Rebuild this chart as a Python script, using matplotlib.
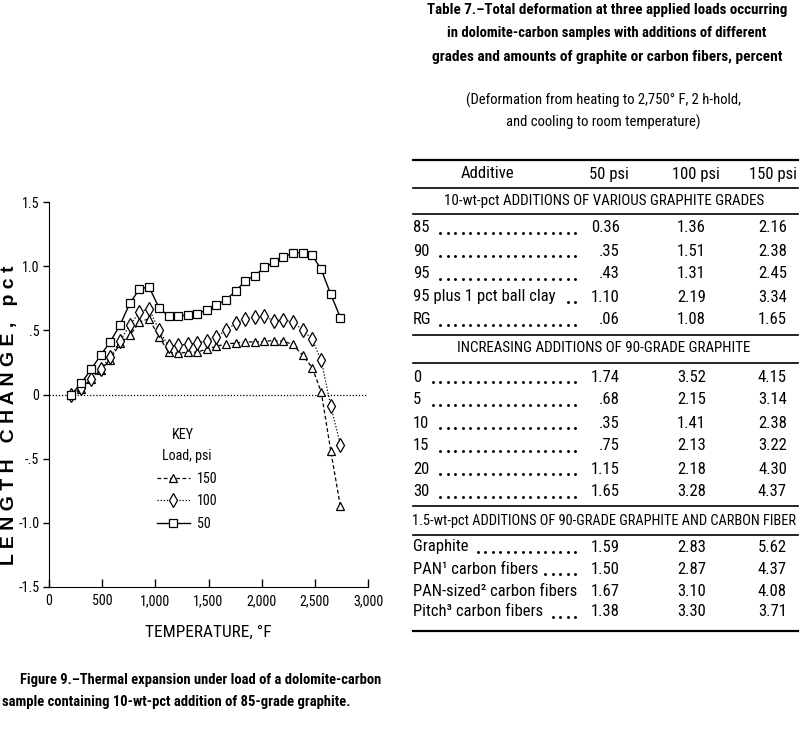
import matplotlib
matplotlib.use("Agg")
import matplotlib.pyplot as plt
from matplotlib import font_manager
import numpy as np

# === FONTS: prefer a condensed face, like the scan; fall back to Liberation Sans ===
_faces = {(f.name, f.stretch) for f in font_manager.fontManager.ttflist}
_names = {n for n, s in _faces}
if 'Liberation Sans Narrow' in _names:
    NARROW, STRETCH = 'Liberation Sans Narrow', 'normal'
elif 'Roboto Condensed' in _names:
    NARROW, STRETCH = 'Roboto Condensed', 'normal'
elif ('Noto Sans', 'condensed') in _faces:
    NARROW, STRETCH = 'Noto Sans', 'condensed'
elif ('DejaVu Sans', 'condensed') in _faces:
    NARROW, STRETCH = 'DejaVu Sans', 'condensed'
else:
    NARROW, STRETCH = 'Liberation Sans', 'normal'
plt.rcParams['font.family'] = [NARROW, 'DejaVu Sans']
plt.rcParams['font.stretch'] = STRETCH

# === FIGURE 9 DATA ===
temps = [210, 305, 395, 485, 575, 670, 760, 850, 940, 1035, 1125, 1215, 1305, 1395, 1485,
         1575, 1665, 1755, 1845, 1935, 2025, 2115, 2205, 2295, 2385, 2475, 2560, 2650, 2740]
load_50 = [0.0, 0.09, 0.195, 0.305, 0.41, 0.545, 0.71, 0.82, 0.84, 0.675, 0.61, 0.61, 0.62, 0.63, 0.66,
           0.695, 0.74, 0.805, 0.885, 0.925, 0.99, 1.03, 1.07, 1.105, 1.105, 1.085, 0.975, 0.78, 0.60]
load_100 = [0.0, 0.05, 0.12, 0.20, 0.29, 0.42, 0.54, 0.64, 0.67, 0.50, 0.375, 0.385, 0.39, 0.40, 0.42,
            0.45, 0.50, 0.555, 0.59, 0.605, 0.61, 0.575, 0.58, 0.565, 0.505, 0.43, 0.265, -0.09, -0.39]
load_150 = [0.0, 0.045, 0.12, 0.19, 0.27, 0.40, 0.46, 0.565, 0.59, 0.45, 0.33, 0.32, 0.33, 0.33, 0.355,
            0.375, 0.395, 0.40, 0.41, 0.41, 0.415, 0.42, 0.415, 0.39, 0.305, 0.21, 0.02, -0.44, -0.87]
yticks = [1.5, 1.0, 0.5, 0, -0.5, -1.0, -1.5]
ytick_labels = ['1.5', '1.0', '.5', '0', '-.5', '-1.0', '-1.5']
xticks = [0, 500, 1000, 1500, 2000, 2500, 3000]
xtick_labels = ['0', '500', '1,000', '1,500', '2,000', '2,500', '3,000']

# === TABLE 7 DATA ===
sec_titles = ["10-wt-pct ADDITIONS OF VARIOUS GRAPHITE GRADES",
              "INCREASING ADDITIONS OF 90-GRADE GRAPHITE",
              "1.5-wt-pct ADDITIONS OF 90-GRADE GRAPHITE AND CARBON FIBER"]
sec1_labels = ["85", "90", "95", "95 plus 1 pct ball clay", "RG"]
sec1_50 = ["0.36", ".35", ".43", "1.10", ".06"]
sec1_100 = ["1.36", "1.51", "1.31", "2.19", "1.08"]
sec1_150 = ["2.16", "2.38", "2.45", "3.34", "1.65"]
sec2_labels = ["0", "5", "10", "15", "20", "30"]
sec2_50 = ["1.74", ".68", ".35", ".75", "1.15", "1.65"]
sec2_100 = ["3.52", "2.15", "1.41", "2.13", "2.18", "3.28"]
sec2_150 = ["4.15", "3.14", "2.38", "3.22", "4.30", "4.37"]
sec3_labels = ["Graphite", "PAN\u00b9 carbon fibers", "PAN-sized\u00b2 carbon fibers", "Pitch\u00b3 carbon fibers"]
sec3_50 = ["1.59", "1.50", "1.67", "1.38"]
sec3_100 = ["2.83", "2.87", "3.10", "3.30"]
sec3_150 = ["5.62", "4.37", "4.08", "3.71"]

fig = plt.figure(figsize=(8, 7.34), dpi=100)
renderer = fig.canvas.get_renderer()


def fit(t, width, vertical=False):
    # scale a text's font size so it spans the given number of pixels
    bb = t.get_window_extent(renderer)
    size = bb.height if vertical else bb.width
    t.set_fontsize(t.get_fontsize() * width / size)
    return t.get_fontsize()


# === PLOT ===
ax = fig.add_axes([49 / 800, 1 - 587 / 734, 319 / 800, 385 / 734])
ax.axhline(0, color='black', lw=0.9, ls=(0, (1, 1.5)), zorder=1)
l150, = ax.plot(temps, load_150, color='black', lw=0.9, ls=(0, (3, 2)), marker='^',
                ms=6, mfc='white', mec='black', mew=0.9, label='150')
l100, = ax.plot(temps, load_100, color='black', lw=0.9, ls=(0, (1, 1.5)), marker='d',
                ms=7, mfc='white', mec='black', mew=0.9, label='100')
l50, = ax.plot(temps, load_50, color='black', lw=1.0, ls='-', marker='s',
               ms=6.3, mfc='white', mec='black', mew=0.9, label='50')
ax.set_xlim(0, 3000)
ax.set_ylim(-1.5, 1.5)
ax.spines['top'].set_visible(False)
ax.spines['right'].set_visible(False)
ax.set_yticks(yticks)
ax.set_yticklabels(ytick_labels)
ax.set_xticks(xticks)
ax.set_xticklabels(xtick_labels)
ax.tick_params(axis='y', direction='out', length=4, width=1, pad=3)
ax.tick_params(axis='x', direction='in', length=6, width=1, pad=5)

probe = fig.text(0, 0, '1,000', fontsize=10)
tick_size = fit(probe, 30)
probe.remove()
for lbl in ax.get_xticklabels() + ax.get_yticklabels():
    lbl.set_fontsize(tick_size)

key = ax.text(0.42, 0.395, 'KEY', transform=ax.transAxes, ha='center', va='center', fontsize=12)
fit(key, 22)
leg = ax.legend(handles=[l150, l100, l50], title='Load, psi', loc='upper left',
                bbox_to_anchor=(0.30, 0.39), frameon=False, fontsize=tick_size,
                title_fontsize=tick_size, handlelength=2.3, handletextpad=0.5,
                labelspacing=0.6)

xl = fig.text(208 / 800, 1 - 632 / 734, 'TEMPERATURE, \u00b0F', ha='center', va='center', fontsize=15)
fit(xl, 127)
yl = fig.text(10 / 800, 1 - 415 / 734, 'L E N G T H   C H A N G E ,   p c t', rotation=90,
              ha='center', va='center', fontsize=11, family='Liberation Sans', stretch='normal',
              weight='bold')
fit(yl, 300, vertical=True)

cap1 = fig.text(20 / 800, 1 - 680 / 734, 'Figure 9.\u2013Thermal expansion under load of a dolomite-carbon',
                ha='left', va='center', fontsize=12, weight='bold')
cap2 = fig.text(2 / 800, 1 - 702 / 734, 'sample containing 10-wt-pct addition of 85-grade graphite.',
                ha='left', va='center', fontsize=12, weight='bold')
fit(cap1, 360)
fit(cap2, 348)

# === TABLE (pixel coordinates) ===
tx = fig.add_axes([0, 0, 1, 1])
tx.set_xlim(0, 800)
tx.set_ylim(734, 0)
tx.axis('off')

title_lines = ["Table 7.\u2013Total deformation at three applied loads occurring",
               "in dolomite-carbon samples with additions of different",
               "grades and amounts of graphite or carbon fibers, percent"]
for yy, s, w in zip([10, 33, 57], title_lines, [360, 319, 352]):
    t = tx.text(607, yy, s, ha='center', va='center', fontsize=12, weight='bold')
    fit(t, w)
sub1 = tx.text(603, 100, "(Deformation from heating to 2,750\u00b0 F, 2 h-hold,", ha='center', va='center', fontsize=12)
sub_size = fit(sub1, 275)
tx.text(603, 122, "and cooling to room temperature)", ha='center', va='center', fontsize=sub_size)

for yy, lw in zip([160, 188, 214, 335, 363, 506, 535, 631], [1.6, 1.2, 1.2, 1.2, 1.2, 1.2, 1.2, 1.6]):
    tx.plot([413, 798], [yy, yy], color='black', lw=lw)

for yy, s, w in zip([201, 348, 521], sec_titles, [320, 294, 382]):
    t = tx.text(604, yy, s, ha='center', va='center', fontsize=12)
    fit(t, w)

probe = tx.text(0, 0, '95 plus 1 pct ball clay', fontsize=12)
body = fit(probe, 142)
probe.remove()

tx.text(487, 174, 'Additive', ha='center', va='center', fontsize=body)
tx.text(609, 174, '50 psi', ha='center', va='center', fontsize=body)
tx.text(696, 174, '100 psi', ha='center', va='center', fontsize=body)
tx.text(797, 174, '150 psi', ha='right', va='center', fontsize=body)

sections = [
    (sec1_labels, sec1_50, sec1_100, sec1_150, [228, 251, 274, 297, 320]),
    (sec2_labels, sec2_50, sec2_100, sec2_150, [377, 400, 423, 446, 469, 492]),
    (sec3_labels, sec3_50, sec3_100, sec3_150, [547, 569, 591, 612]),
]
label_texts = []
for labels, v50, v100, v150, ys in sections:
    for lab, a, b, c, yy in zip(labels, v50, v100, v150, ys):
        t = tx.text(413, yy, lab, ha='left', va='center', fontsize=body)
        label_texts.append((t, yy))
        tx.text(620, yy, a, ha='right', va='center', fontsize=body)
        tx.text(706, yy, b, ha='right', va='center', fontsize=body)
        tx.text(787, yy, c, ha='right', va='center', fontsize=body)

# leader dots after each row label
for t, yy in label_texts:
    x_end = t.get_window_extent(renderer).x1
    xs = np.arange(575, x_end + 6, -7.5)[::-1]
    tx.plot(xs, [yy + 5] * len(xs), ls='none', marker='o', ms=1.1, color='black')

fig.savefig('out.png', dpi=100, facecolor='white')
